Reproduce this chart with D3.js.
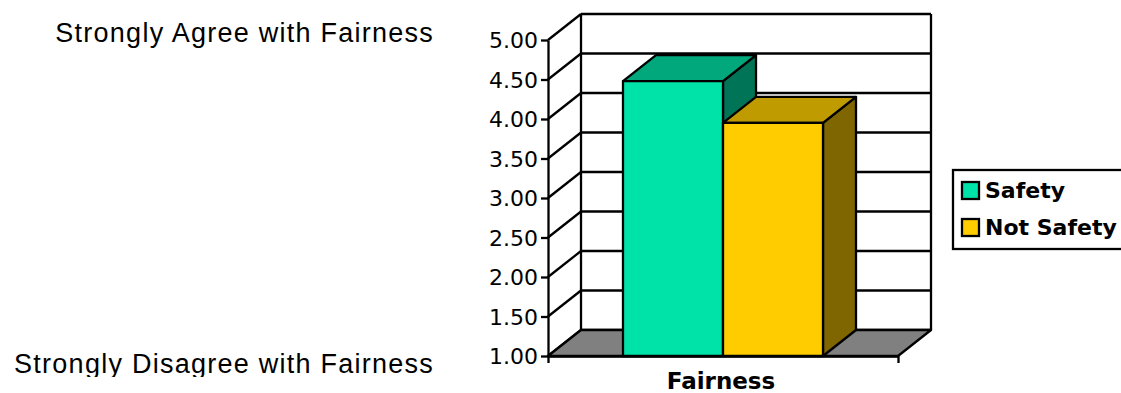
<!DOCTYPE html>
<html>
<head>
<meta charset="utf-8">
<script src="https://cdn.jsdelivr.net/npm/d3@7"></script>
<style>
  body { margin: 0; background: #fff; }
  svg { display: block; }
</style>
</head>
<body>
<div id="chart"></div>
<script>
// data
const categories = ["Fairness"];
const series = ["Safety", "Not Safety"];
const values = [4.48, 3.95];
const yTicks = [1, 1.5, 2, 2.5, 3, 3.5, 4, 4.5, 5];
const sideLabels = ["Strongly Agree with Fairness", "Strongly Disagree with Fairness"];

const faceColors = ["#00e3a8", "#ffcc00"];
const topColors = ["#00a87c", "#c09b00"];
const sideColors = ["#007456", "#7f6600"];

const W = 1121, H = 393;
const depthX = 33, depthY = -26;

var svg = d3.select('#chart')
    .append('svg')
    .attr('width', W)
    .attr('height', H);

let y = d3.scaleLinear().domain([1, 5]).range([356, 40]);
let x0 = d3.scaleBand().domain(categories).range([548, 898]);
let x1 = d3.scaleBand().domain(series)
    .range([x0(categories[0]), x0(categories[0]) + x0.bandwidth()])
    .paddingInner(0).paddingOuter(0.75);

const line = d3.line();
const left = x0.range()[0], right = x0.range()[1];
const base = y.domain()[0];
const sw = 2.3;

// back wall
svg.append('path')
    .attr('d', line([[left + depthX, y(5) + depthY], [right + depthX, y(5) + depthY],
        [right + depthX, y(base) + depthY], [left + depthX, y(base) + depthY]]) + 'Z')
    .attr('fill', '#fff');

let grid = svg.append('g').attr('id', 'grid');
grid.selectAll('line.back')
    .data(yTicks)
    .enter()
    .append('line')
    .attr('x1', left + depthX)
    .attr('x2', right + depthX)
    .attr('y1', d => y(d) + depthY)
    .attr('y2', d => y(d) + depthY)
    .attr('stroke', '#000')
    .attr('stroke-width', sw);

// left wall diagonals
grid.selectAll('line.diag')
    .data(yTicks)
    .enter()
    .append('line')
    .attr('x1', left)
    .attr('x2', left + depthX)
    .attr('y1', d => y(d))
    .attr('y2', d => y(d) + depthY)
    .attr('stroke', '#000')
    .attr('stroke-width', sw);

// back wall edges
svg.append('line')
    .attr('x1', left + depthX).attr('x2', left + depthX)
    .attr('y1', y(5) + depthY).attr('y2', y(base) + depthY)
    .attr('stroke', '#000').attr('stroke-width', sw);
svg.append('line')
    .attr('x1', right + depthX).attr('x2', right + depthX)
    .attr('y1', y(5) + depthY).attr('y2', y(base) + depthY)
    .attr('stroke', '#000').attr('stroke-width', sw);

// floor
svg.append('path')
    .attr('d', line([[left, y(base)], [right, y(base)], [right + depthX, y(base) + depthY],
        [left + depthX, y(base) + depthY]]) + 'Z')
    .attr('fill', '#808080')
    .attr('stroke', '#000')
    .attr('stroke-width', sw)
    .attr('stroke-linejoin', 'round');

// bars
let bars = svg.append('g').attr('id', 'bars')
    .selectAll('g')
    .data(series.map((s, i) => ({ name: s, value: values[i], i: i })))
    .enter()
    .append('g');

bars.append('path')
    .attr('d', d => {
        let xa = x1(d.name) + x1.bandwidth(), yt = y(d.value), yb = y(base);
        return line([[xa, yb], [xa + depthX, yb + depthY], [xa + depthX, yt + depthY], [xa, yt]]) + 'Z';
    })
    .attr('fill', d => sideColors[d.i]);

bars.append('path')
    .attr('d', d => {
        let xa = x1(d.name), xb = xa + x1.bandwidth(), yt = y(d.value);
        return line([[xa, yt], [xb, yt], [xb + depthX, yt + depthY], [xa + depthX, yt + depthY]]) + 'Z';
    })
    .attr('fill', d => topColors[d.i]);

bars.append('rect')
    .attr('x', d => x1(d.name))
    .attr('y', d => y(d.value))
    .attr('width', x1.bandwidth())
    .attr('height', d => y(base) - y(d.value))
    .attr('fill', d => faceColors[d.i]);

bars.selectAll('path, rect')
    .attr('stroke', '#000')
    .attr('stroke-width', sw)
    .attr('stroke-linejoin', 'round');

// value axis
let yAxis = d3.axisLeft(y)
    .tickValues(yTicks)
    .tickFormat(d3.format('.2f'))
    .tickSize(7)
    .tickSizeOuter(0)
    .tickPadding(3);

let ya = svg.append('g')
    .attr('transform', 'translate(' + left + ',0)')
    .call(yAxis);
ya.select('.domain').attr('stroke-width', sw).attr('stroke', '#000');
ya.selectAll('.tick line').attr('stroke-width', sw).attr('stroke', '#000');
ya.selectAll('.tick text')
    .attr('font-family', 'DejaVu Sans, sans-serif')
    .attr('font-size', 22)
    .attr('fill', '#000')
    .attr('dy', '0.36em');

// category axis
let xAxis = d3.axisBottom(x0)
    .tickValues([])
    .tickSizeOuter(7);
let xa = svg.append('g')
    .attr('transform', 'translate(0,' + y(base) + ')')
    .call(xAxis);
xa.select('.domain').attr('stroke-width', sw).attr('stroke', '#000');

svg.append('text')
    .attr('x', x0(categories[0]) + x0.bandwidth() / 2 - 2)
    .attr('y', 389)
    .attr('text-anchor', 'middle')
    .attr('font-family', 'DejaVu Sans, sans-serif')
    .attr('font-weight', 'bold')
    .attr('font-size', 23)
    .text(categories[0]);

// legend
let legend = svg.append('g').attr('id', 'legend');
legend.append('rect')
    .attr('x', 953).attr('y', 170)
    .attr('width', 200).attr('height', 79)
    .attr('fill', '#fff')
    .attr('stroke', '#000')
    .attr('stroke-width', sw);

let items = legend.selectAll('g')
    .data(series)
    .enter()
    .append('g')
    .attr('transform', (d, i) => 'translate(962,' + (182 + i * 37) + ')');
items.append('rect')
    .attr('width', 17).attr('height', 17)
    .attr('fill', (d, i) => faceColors[i])
    .attr('stroke', '#000')
    .attr('stroke-width', sw);
items.append('text')
    .attr('x', 23)
    .attr('y', 16)
    .attr('font-family', 'DejaVu Sans, sans-serif')
    .attr('font-weight', 'bold')
    .attr('font-size', 22)
    .text(d => d);

// side notes
svg.append('clipPath')
    .attr('id', 'clip-notes')
    .append('rect')
    .attr('x', 0).attr('y', 0).attr('width', 470).attr('height', 377);

svg.append('g')
    .attr('clip-path', 'url(#clip-notes)')
    .selectAll('text')
    .data(sideLabels)
    .enter()
    .append('text')
    .attr('x', 434)
    .attr('y', (d, i) => i == 0 ? 42 : 373)
    .attr('text-anchor', 'end')
    .attr('font-family', 'Liberation Sans, Arial, sans-serif')
    .attr('font-size', 27)
    .attr('letter-spacing', 1.25)
    .text(d => d);
</script>
</body>
</html>
